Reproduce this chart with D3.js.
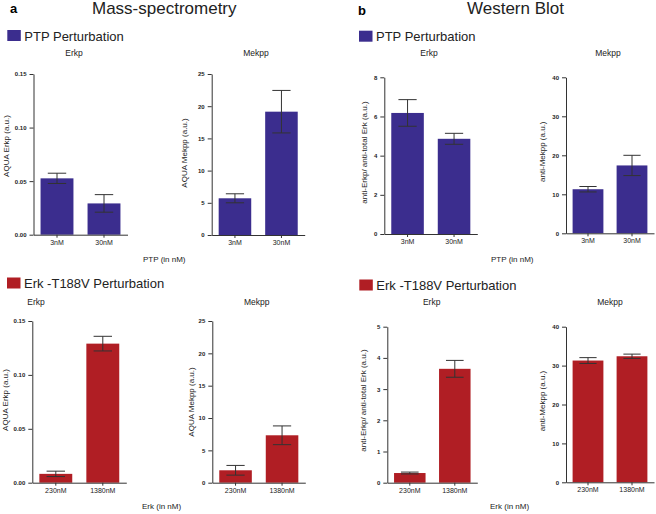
<!DOCTYPE html>
<html>
<head>
<meta charset="utf-8">
<script src="https://cdn.jsdelivr.net/npm/d3@7"></script>
<style>
  body { margin: 0; background: #fff; }
  svg { display: block; font-family: "Liberation Sans", Arial, sans-serif; }
</style>
</head>
<body>
<div id="chart"></div>
<script>
// categories
const ptpDoses = ["3nM", "30nM"];
const erkDoses = ["230nM", "1380nM"];

// PTP perturbation (means and error)
const msErkpPtp = [0.0526, 0.0292];
const msErkpPtpErr = [0.0048, 0.0082];
const msMekppPtp = [5.7, 19.15];
const msMekppPtpErr = [0.7, 3.3];
const wbErkpPtp = [6.18, 4.86];
const wbErkpPtpErr = [0.68, 0.28];
const wbMekppPtp = [11.3, 17.4];
const wbMekppPtpErr = [0.7, 2.6];

// Erk-T188V perturbation
const msErkpErk = [0.0082, 0.129];
const msErkpErkErr = [0.0025, 0.0068];
const msMekppErk = [1.92, 7.33];
const msMekppErkErr = [0.75, 1.45];
const wbErkpErk = [0.31, 3.65];
const wbErkpErkErr = [0.03, 0.27];
const wbMekppErk = [31.3, 32.4];
const wbMekppErkErr = [0.75, 0.55];

// y tick labels
const ticksErkpMs = [0, 0.05, 0.10, 0.15];
const ticksMekppMs = [0, 5, 10, 15, 20, 25];
const ticksErkpWbPtp = [0, 2, 4, 6, 8];
const ticksErkpWbErk = [0, 1, 2, 3, 4, 5];
const ticksMekppWb = [0, 10, 20, 30, 40];

const blue = "#3b2d8e";
const red = "#b01e24";
const ink = "#333";

const panels = [
  { cats: ptpDoses, vals: msErkpPtp, err: msErkpPtpErr, ticks: ticksErkpMs, fmt: ".2f", color: blue,
    x: 33.5, top: 74, bottom: 234.7, w: 94, ylabel: "AQUA Erkp (a.u.)", lx: 6, ly: 146,
    title: "Erkp", tx: 74, ty: 56 },
  { cats: ptpDoses, vals: msMekppPtp, err: msMekppPtpErr, ticks: ticksMekppMs, fmt: "d", color: blue,
    x: 211.7, top: 74, bottom: 235, w: 93, ylabel: "AQUA Mekpp (a.u.)", lx: 184, ly: 153,
    title: "Mekpp", tx: 256, ty: 56 },
  { cats: ptpDoses, vals: wbErkpPtp, err: wbErkpPtpErr, ticks: ticksErkpWbPtp, fmt: "d", color: blue,
    x: 384.3, top: 77.3, bottom: 234, w: 93, ylabel: "anti-Erkp/ anti-total Erk (a.u.)", lx: 364, ly: 152.5,
    title: "Erkp", tx: 429, ty: 56 },
  { cats: ptpDoses, vals: wbMekppPtp, err: wbMekppPtpErr, ticks: ticksMekppWb, fmt: "d", color: blue,
    x: 566, top: 77.3, bottom: 233.3, w: 88, ylabel: "anti-Mekpp (a.u.)", lx: 541.7, ly: 151.7,
    title: "Mekpp", tx: 608, ty: 56 },
  { cats: erkDoses, vals: msErkpErk, err: msErkpErkErr, ticks: ticksErkpMs, fmt: ".2f", color: red,
    x: 32.3, top: 321, bottom: 482.7, w: 94, ylabel: "AQUA Erkp (a.u.)", lx: 5.5, ly: 400,
    title: "Erkp", tx: 36, ty: 305 },
  { cats: erkDoses, vals: msMekppErk, err: msMekppErkErr, ticks: ticksMekppMs, fmt: "d", color: red,
    x: 212.3, top: 321, bottom: 482.7, w: 93, ylabel: "AQUA Mekpp (a.u.)", lx: 191, ly: 402,
    title: "Mekpp", tx: 256.7, ty: 305 },
  { cats: erkDoses, vals: wbErkpErk, err: wbErkpErkErr, ticks: ticksErkpWbErk, fmt: "d", color: red,
    x: 387.3, top: 326.7, bottom: 482.7, w: 90, ylabel: "anti-Erkp/ anti-total Erk (a.u.)", lx: 363, ly: 400.5,
    title: "Erkp", tx: 431.7, ty: 305 },
  { cats: erkDoses, vals: wbMekppErk, err: wbMekppErkErr, ticks: ticksMekppWb, fmt: "d", color: red,
    x: 566, top: 326.7, bottom: 482.3, w: 88, ylabel: "anti-Mekpp (a.u.)", lx: 541.7, ly: 401,
    title: "Mekpp", tx: 610, ty: 305 }
];

const svg = d3.select("#chart")
  .append("svg")
  .attr("width", 656)
  .attr("height", 514);

// section headers
svg.append("text").attr("x", 10).attr("y", 13).attr("font-size", 13).attr("font-weight", "bold").text("a");
svg.append("text").attr("x", 358).attr("y", 14.5).attr("font-size", 13).attr("font-weight", "bold").text("b");
svg.append("text").attr("x", 92).attr("y", 13.5).attr("font-size", 17).attr("fill", "#222").text("Mass-spectrometry");
svg.append("text").attr("x", 467).attr("y", 14).attr("font-size", 17).attr("fill", "#222").text("Western Blot");

// legends
const legends = [
  { x: 7.3, y: 30, text: "PTP Perturbation", color: blue },
  { x: 359, y: 30.7, text: "PTP Perturbation", color: blue },
  { x: 7, y: 277.5, text: "Erk -T188V Perturbation", color: red },
  { x: 359.3, y: 279.5, text: "Erk -T188V Perturbation", color: red }
];
legends.forEach(l => {
  svg.append("rect").attr("x", l.x).attr("y", l.y).attr("width", 13.5).attr("height", 11).attr("fill", l.color);
  svg.append("text").attr("x", l.x + 17).attr("y", l.y + 10.5).attr("font-size", 13).attr("fill", "#222").text(l.text);
});

// x axis labels
svg.append("text").attr("x", 143).attr("y", 262).attr("font-size", 8).attr("fill", "#222").text("PTP (in nM)");
svg.append("text").attr("x", 491).attr("y", 262).attr("font-size", 8).attr("fill", "#222").text("PTP (in nM)");
svg.append("text").attr("x", 142).attr("y", 509).attr("font-size", 8).attr("fill", "#222").text("Erk (in nM)");
svg.append("text").attr("x", 490).attr("y", 509).attr("font-size", 8).attr("fill", "#222").text("Erk (in nM)");

panels.forEach(p => {
  const g = svg.append("g");
  const x = d3.scaleBand().domain(p.cats).range([p.x, p.x + p.w]).paddingInner(0.3).paddingOuter(0.15);
  const y = d3.scaleLinear().domain([0, d3.max(p.ticks)]).range([p.bottom, p.top]);

  g.selectAll("rect.bar")
    .data(p.vals)
    .enter()
    .append("rect")
    .classed("bar", true)
    .attr("x", (d, i) => x(p.cats[i]))
    .attr("y", d => y(d))
    .attr("width", x.bandwidth())
    .attr("height", d => y(0) - y(d))
    .attr("fill", p.color);

  const cap = x.bandwidth() * 0.28;
  const eb = g.selectAll("g.err")
    .data(p.vals)
    .enter()
    .append("g")
    .classed("err", true)
    .attr("stroke", ink)
    .attr("stroke-width", 1);
  const cx = i => x(p.cats[i]) + x.bandwidth() / 2;
  eb.append("line")
    .attr("x1", (d, i) => cx(i)).attr("x2", (d, i) => cx(i))
    .attr("y1", (d, i) => y(d + p.err[i])).attr("y2", (d, i) => y(d - p.err[i]));
  eb.append("line")
    .attr("x1", (d, i) => cx(i) - cap).attr("x2", (d, i) => cx(i) + cap)
    .attr("y1", (d, i) => y(d + p.err[i])).attr("y2", (d, i) => y(d + p.err[i]));
  eb.append("line")
    .attr("x1", (d, i) => cx(i) - cap).attr("x2", (d, i) => cx(i) + cap)
    .attr("y1", (d, i) => y(d - p.err[i])).attr("y2", (d, i) => y(d - p.err[i]));

  const yAxis = g.append("g")
    .attr("transform", `translate(${p.x},0)`)
    .call(d3.axisLeft(y).tickValues(p.ticks).tickFormat(d3.format(p.fmt)).tickSize(4).tickSizeOuter(0).tickPadding(3));
  const xAxis = g.append("g")
    .attr("transform", `translate(0,${p.bottom})`)
    .call(d3.axisBottom(x).tickSize(3).tickSizeOuter(0).tickPadding(2));
  [yAxis, xAxis].forEach(a => {
    a.selectAll("path, line").attr("stroke", ink);
    a.selectAll("text").attr("fill", "#222").attr("font-family", "'Liberation Sans', Arial, sans-serif");
  });
  yAxis.selectAll("text").attr("font-size", 6).attr("font-weight", "bold");
  xAxis.selectAll("text").attr("font-size", 7);

  g.append("text")
    .attr("transform", `translate(${p.lx},${p.ly}) rotate(-90)`)
    .attr("dy", "0.35em")
    .attr("text-anchor", "middle")
    .attr("font-size", 8)
    .attr("fill", "#222")
    .text(p.ylabel);

  g.append("text")
    .attr("x", p.tx)
    .attr("y", p.ty)
    .attr("text-anchor", "middle")
    .attr("font-size", 8.5)
    .attr("fill", "#222")
    .text(p.title);
});
</script>
</body>
</html>
